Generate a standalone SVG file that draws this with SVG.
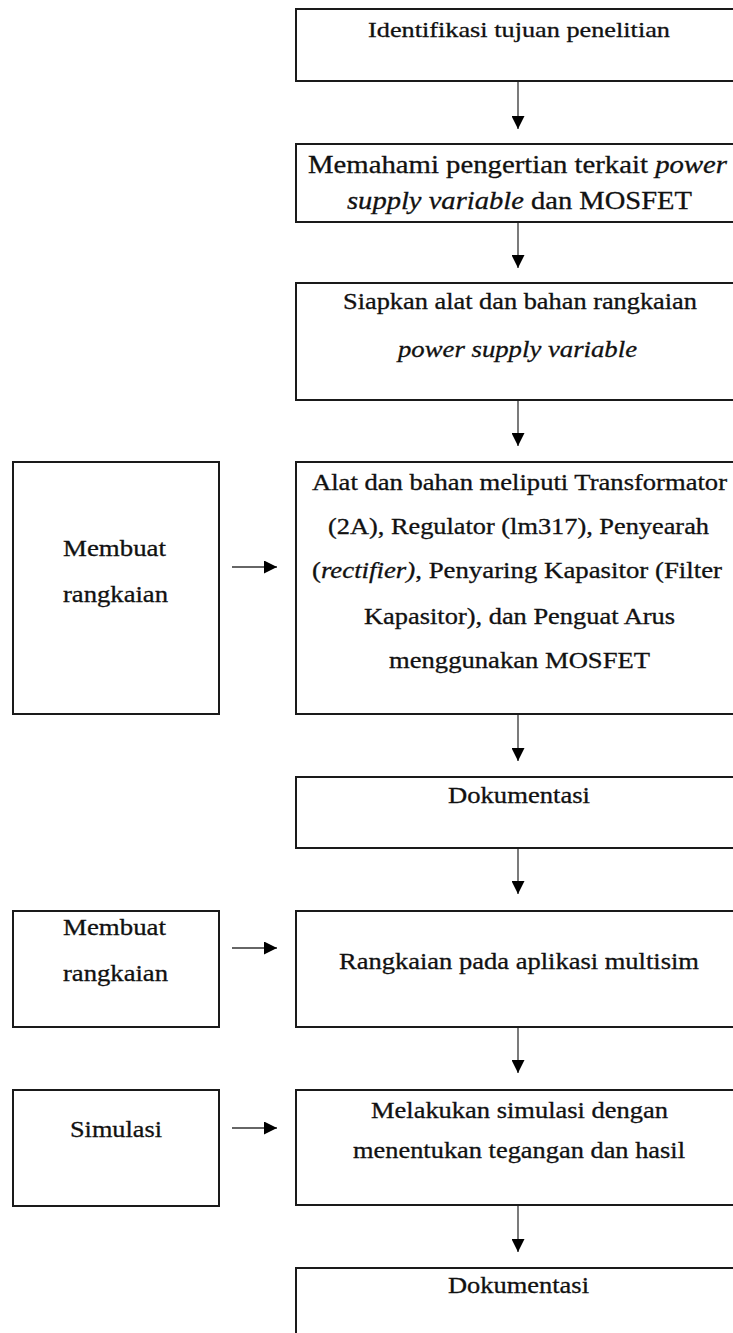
<svg xmlns="http://www.w3.org/2000/svg" width="733" height="1333" viewBox="0 0 733 1333">
<style>
.box{fill:#fff;stroke:#1a1a1a;stroke-width:2}
.t{font-family:"Liberation Serif","Times New Roman",Times,serif;fill:#111;stroke:#111;stroke-width:0.3;text-anchor:middle;font-size:23px}
.i{font-style:italic}
.c{stroke:#333;stroke-width:1.3;fill:none;marker-end:url(#ah)}
</style>
<defs>
<marker id="ah" markerUnits="userSpaceOnUse" markerWidth="13" markerHeight="13" refX="13" refY="6.5" orient="auto" viewBox="0 0 13 13">
<path d="M0,0 L13,6.5 L0,13 z" fill="#000"/>
</marker>
</defs>
<rect width="733" height="1333" fill="#fff"/>
<g id="connectors">
<line class="c" x1="518" y1="82" x2="518" y2="129"/>
<line class="c" x1="518" y1="223" x2="518" y2="268"/>
<line class="c" x1="518" y1="401" x2="518" y2="446"/>
<line class="c" x1="518" y1="715" x2="518" y2="761"/>
<line class="c" x1="518" y1="849" x2="518" y2="894"/>
<line class="c" x1="518" y1="1028" x2="518" y2="1073"/>
<line class="c" x1="518" y1="1206" x2="518" y2="1252"/>
<line class="c" x1="232" y1="567" x2="277" y2="567"/>
<line class="c" x1="232" y1="948" x2="277" y2="948"/>
<line class="c" x1="232" y1="1128" x2="277" y2="1128"/>
</g>
<g id="n1">
<rect class="box" x="296" y="9" width="470" height="72"/>
<text class="t" x="519" y="37" style="font-size:22px" textLength="302" lengthAdjust="spacingAndGlyphs">Identifikasi tujuan penelitian</text>
</g>
<g id="n2">
<rect class="box" x="296" y="144" width="470" height="78"/>
<text class="t" x="517.5" y="173" style="font-size:25px" textLength="419" lengthAdjust="spacingAndGlyphs">Memahami pengertian terkait <tspan class="i">power</tspan></text>
<text class="t" x="519.5" y="209" style="font-size:25px" textLength="345" lengthAdjust="spacingAndGlyphs"><tspan class="i">supply variable</tspan> dan MOSFET</text>
</g>
<g id="n3">
<rect class="box" x="296" y="283" width="470" height="117"/>
<text class="t" x="520" y="309" textLength="354" lengthAdjust="spacingAndGlyphs">Siapkan alat dan bahan rangkaian</text>
<text class="t i" x="517.5" y="357" textLength="239" lengthAdjust="spacingAndGlyphs">power supply variable</text>
</g>
<g id="n4">
<rect class="box" x="296" y="462" width="470" height="252"/>
<text class="t" x="519.5" y="490" textLength="415" lengthAdjust="spacingAndGlyphs">Alat dan bahan meliputi Transformator</text>
<text class="t" x="518.5" y="534" textLength="381" lengthAdjust="spacingAndGlyphs">(2A), Regulator (lm317), Penyearah</text>
<text class="t" x="517" y="578" textLength="410" lengthAdjust="spacingAndGlyphs">(<tspan class="i">rectifier)</tspan>, Penyaring Kapasitor (Filter</text>
<text class="t" x="519.5" y="624" textLength="311" lengthAdjust="spacingAndGlyphs">Kapasitor), dan Penguat Arus</text>
<text class="t" x="519.5" y="668" textLength="261" lengthAdjust="spacingAndGlyphs">menggunakan MOSFET</text>
</g>
<g id="n5">
<rect class="box" x="296" y="777" width="470" height="71"/>
<text class="t" x="519" y="803" textLength="142" lengthAdjust="spacingAndGlyphs">Dokumentasi</text>
</g>
<g id="n6">
<rect class="box" x="296" y="911" width="470" height="116"/>
<text class="t" x="519" y="969" textLength="360" lengthAdjust="spacingAndGlyphs">Rangkaian pada aplikasi multisim</text>
</g>
<g id="n7">
<rect class="box" x="296" y="1090" width="470" height="115"/>
<text class="t" x="519.5" y="1118" textLength="297" lengthAdjust="spacingAndGlyphs">Melakukan simulasi dengan</text>
<text class="t" x="519" y="1158" textLength="332" lengthAdjust="spacingAndGlyphs">menentukan tegangan dan hasil</text>
</g>
<g id="n8">
<rect class="box" x="296" y="1268" width="470" height="100"/>
<text class="t" x="518.5" y="1293" textLength="141" lengthAdjust="spacingAndGlyphs">Dokumentasi</text>
</g>
<g id="l1">
<rect class="box" x="13" y="462" width="206" height="252"/>
<text class="t" x="114.5" y="556" textLength="103" lengthAdjust="spacingAndGlyphs">Membuat</text>
<text class="t" x="115.5" y="602" textLength="105" lengthAdjust="spacingAndGlyphs">rangkaian</text>
</g>
<g id="l2">
<rect class="box" x="13" y="911" width="206" height="116"/>
<text class="t" x="114.5" y="935" textLength="103" lengthAdjust="spacingAndGlyphs">Membuat</text>
<text class="t" x="115.5" y="981" textLength="105" lengthAdjust="spacingAndGlyphs">rangkaian</text>
</g>
<g id="l3">
<rect class="box" x="13" y="1090" width="206" height="116"/>
<text class="t" x="116" y="1137" textLength="92" lengthAdjust="spacingAndGlyphs">Simulasi</text>
</g>
</svg>
